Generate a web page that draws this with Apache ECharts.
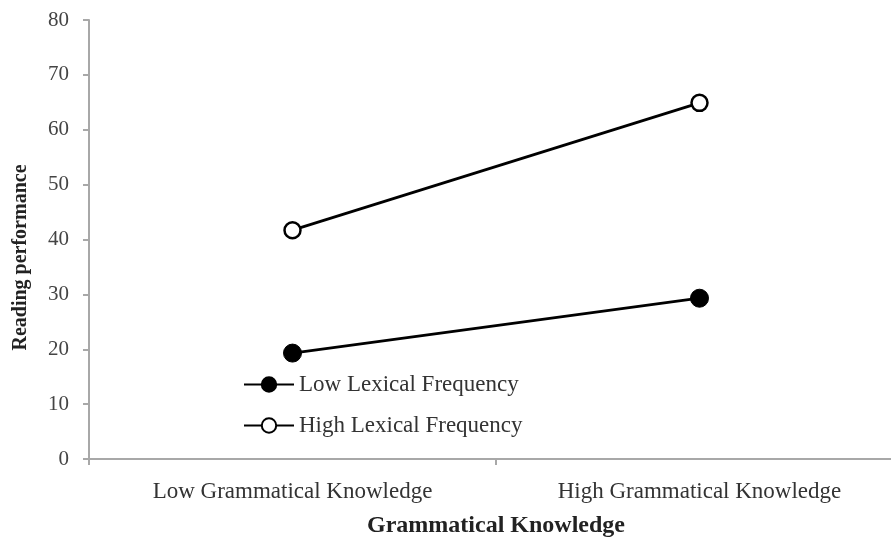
<!DOCTYPE html>
<html>
<head>
<meta charset="utf-8">
<script src="https://cdn.jsdelivr.net/npm/echarts@6/dist/echarts.min.js"></script>
<style>
html,body{margin:0;padding:0;background:#fff;overflow:hidden;}
#wrap{width:891px;height:538px;overflow:hidden;position:relative;}
#chart{width:903px;height:538px;position:absolute;left:0;top:0;}
</style>
</head>
<body>
<div id="wrap"><div id="chart"></div></div>
<script>
var categories = ['Low Grammatical Knowledge', 'High Grammatical Knowledge'];
var lowLexical = [19.3, 29.3];
var highLexical = [41.7, 64.9];
var seriesNames = ['Low Lexical Frequency', 'High Lexical Frequency'];
var yTicks = {min: 0, max: 80, interval: 10};

var font = 'Liberation Serif';
var chart = echarts.init(document.getElementById('chart'), null, {renderer: 'canvas', width: 903, height: 538});
chart.setOption({
  animation: false,
  backgroundColor: '#fff',
  grid: {left: 89, top: 20, bottom: 79, right: 0, containLabel: false, outerBoundsMode: 'none'},
  xAxis: {
    type: 'category',
    data: categories,
    boundaryGap: true,
    name: 'Grammatical Knowledge',
    nameLocation: 'middle',
    nameGap: 55,
    nameTextStyle: {fontFamily: font, fontWeight: 'bold', fontSize: 24, color: '#222'},
    axisLine: {lineStyle: {color: '#a8a8a8', width: 2}},
    axisTick: {show: true, length: 6, lineStyle: {color: '#a8a8a8', width: 2}},
    axisLabel: {fontFamily: font, fontSize: 23, color: '#333', margin: 21},
    splitLine: {show: false}
  },
  yAxis: {
    type: 'value',
    min: yTicks.min, max: yTicks.max, interval: yTicks.interval,
    name: 'Reading performance',
    nameLocation: 'middle',
    nameGap: 58,
    nameTextStyle: {fontFamily: font, fontWeight: 'bold', fontSize: 20, color: '#222', padding: [0, 36, 0, 0]},
    axisLine: {show: true, lineStyle: {color: '#a8a8a8', width: 2}},
    axisTick: {show: true, length: 6, lineStyle: {color: '#a8a8a8', width: 2}},
    axisLabel: {fontFamily: font, fontSize: 21, color: '#444', margin: 20},
    splitLine: {show: false}
  },
  legend: {
    orient: 'vertical',
    left: 238, top: 368,
    itemWidth: 50, itemHeight: 18, itemGap: 18,
    textStyle: {fontFamily: font, fontSize: 23, color: '#333'},
    data: seriesNames
  },
  series: [
    {
      name: seriesNames[0], type: 'line', data: lowLexical,
      symbol: 'circle', symbolSize: 18,
      lineStyle: {color: '#000', width: 2.8},
      itemStyle: {color: '#000', borderColor: '#000', borderWidth: 1}
    },
    {
      name: seriesNames[1], type: 'line', data: highLexical,
      symbol: 'circle', symbolSize: 16,
      lineStyle: {color: '#000', width: 2.8},
      itemStyle: {color: '#fff', borderColor: '#000', borderWidth: 2.5}
    }
  ]
});
</script>
</body>
</html>
